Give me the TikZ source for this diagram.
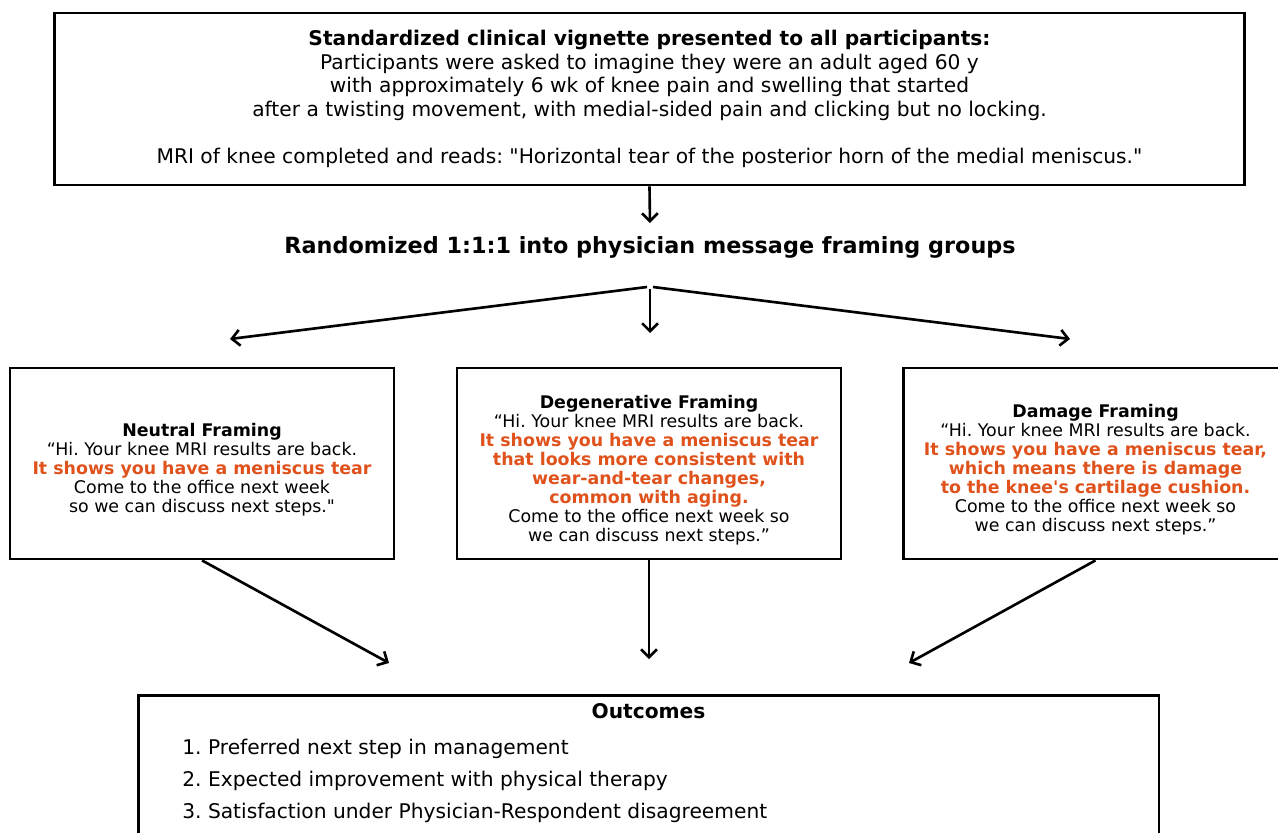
\documentclass[tikz,border=0pt]{standalone}
\usepackage{fontspec}
\setmainfont{DejaVu Sans}
\usetikzlibrary{arrows.meta}
\usetikzlibrary{positioning}

\definecolor{framered}{HTML}{E0521C}
\newcommand{\redbf}[1]{\textcolor{framered}{\bfseries #1}}
\frenchspacing

\tikzset{
    box/.style={draw, line width=1.6pt, align=center, inner sep=0pt},
    flow/.style={line width=1.5pt, -{Straight Barb[length=4.5pt,width=9pt]}},
    msg/.style={box, minimum width=7.68cm, minimum height=3.82cm},
    msgtext/.style={align=center, inner sep=0pt, font=\fontsize{9.9}{10.8}\selectfont},
}

\begin{document}
\begin{tikzpicture}[x=0.02cm, y=-0.02cm]
    \clip (0,0) rectangle (1278,832);

    \node[box, minimum width=23.82cm, minimum height=3.44cm, font=\fontsize{11.5}{13.4}\selectfont] (vignette) at (649.5,99) {\textbf{Standardized clinical vignette presented to all participants:}\\
        Participants were asked to imagine they were an adult aged 60 y\\
        with approximately 6 wk of knee pain and swelling that started\\
        after a twisting movement, with medial-sided pain and clicking but no locking.\\[13.4pt]
        MRI of knee completed and reads: \textquotedbl Horizontal tear of the posterior horn of the medial meniscus.\textquotedbl};

    \node[font=\bfseries\fontsize{12.7}{14}\selectfont] (random) at (650,247) {Randomized 1:1:1 into physician message framing groups};

    % three framings
    \node[msg] (neutral) at (202,463.5) {};
    \node[msgtext] (neutraltxt) at (202,470) {\textbf{Neutral Framing}\\
        “Hi. Your knee MRI results are back.\\
        \redbf{It shows you have a meniscus tear}\\
        Come to the office next week\\
        so we can discuss next steps.\textquotedbl};
    \node[msg] (degen) at (649,463.5) {};
    \node[msgtext] (degentxt) at (649,470) {\textbf{Degenerative Framing}\\
        “Hi. Your knee MRI results are back.\\
        \redbf{It shows you have a meniscus tear}\\
        \redbf{that looks more consistent with}\\
        \redbf{wear-and-tear changes,}\\
        \redbf{common with aging.}\\
        Come to the office next week so\\
        we can discuss next steps.”};
    \node[msg] (damage) at (1095.5,463.5) {};
    \node[msgtext] (damagetxt) at (1095.5,470) {\textbf{Damage Framing}\\
        “Hi. Your knee MRI results are back.\\
        \redbf{It shows you have a meniscus tear,}\\
        \redbf{which means there is damage}\\
        \redbf{to the knee\textquotesingle s cartilage cushion.}\\
        Come to the office next week so\\
        we can discuss next steps.”};

    % outcomes
    \node[box, minimum width=20.42cm, minimum height=3.2cm, anchor=north] (outcomes) at (648.5,694) {};
    \node[font=\bfseries\fontsize{11.5}{13}\selectfont] (outtitle) at (648.5,711) {Outcomes};
    \foreach \i/\txt in {1/Preferred next step in management,
                         2/Expected improvement with physical therapy,
                         3/Satisfaction under Physician-Respondent disagreement} {
        \node[anchor=base west, inner sep=0pt, font=\fontsize{11.5}{13}\selectfont] (item\i) at (182,722+32*\i) {\i. \txt};
    }

    \coordinate (torand) at (650,223);
    \coordinate (fan) at (650,287);
    \coordinate (toleft) at (230,339);
    \coordinate (tomid) at (650,333);
    \coordinate (toright) at (1070,339);
    \coordinate (inleft) at (389,663);
    \coordinate (inmid) at (649,659);
    \coordinate (inright) at (909,663);

    \draw[flow] (vignette.south) -- (torand);
    \draw[flow] ([xshift=-0.06cm]fan) -- (toleft);
    \draw[flow] ([yshift=-0.04cm]fan) -- (tomid);
    \draw[flow] ([xshift=0.06cm]fan) -- (toright);
    \draw[flow] (neutral.south) -- (inleft);
    \draw[flow] (degen.south) -- (inmid);
    \draw[flow] (damage.south) -- (inright);
\end{tikzpicture}
\end{document}
